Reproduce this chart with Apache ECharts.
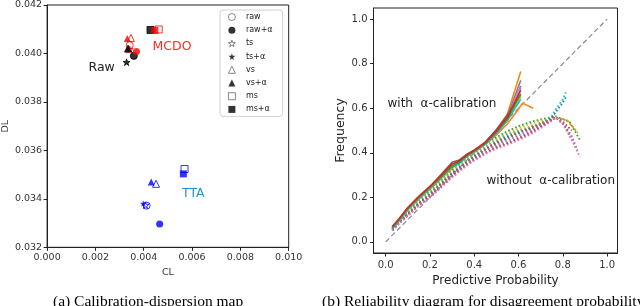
<!DOCTYPE html>
<html><head><meta charset="utf-8">
<script src="https://cdn.jsdelivr.net/npm/echarts@6/dist/echarts.min.js"></script>
<style>html,body{margin:0;padding:0;background:#fff}#c{width:640px;height:306px}</style>
</head><body><div id="c"></div>
<script>
// ===== Panel (a): calibration-dispersion map. Each array: [Raw, MCDO, TTA]
const markerNames = ['raw','raw+α','ts','ts+α','vs','vs+α','ms','ms+α'];
const rawCL  = [0.00359,0.00342,0.00412];
const rawDL  = [0.03990,0.04034,0.03372];
const rawaCL = [0.00359,0.00370,0.00466];
const rawaDL = [0.03990,0.04008,0.03296];
const tsCL   = [0.00329,0.00342,0.00407];
const tsDL   = [0.03964,0.04017,0.03374];
const tsaCL  = [0.00329,0.00335,0.00398];
const tsaDL  = [0.03964,0.04013,0.03381];
const vsCL   = [0.00335,0.00347,0.00451];
const vsDL   = [0.04020,0.04064,0.03462];
const vsaCL  = [0.00335,0.00332,0.00431];
const vsaDL  = [0.04020,0.04062,0.03470];
const msCL   = [0.00428,0.00462,0.00569];
const msDL   = [0.04097,0.04099,0.03523];
const msaCL  = [0.00428,0.00446,0.00564];
const msaDL  = [0.04097,0.04095,0.03503];
const clTicks = [0,0.002,0.004,0.006,0.008,0.010];
const dlTicks = [0.032,0.034,0.036,0.038,0.040,0.042];

// ===== Panel (b): reliability diagram
const probTicks = [0,0.2,0.4,0.6,0.8,1.0];
const calX      = [0.03,0.06,0.10,0.15,0.20,0.25,0.30,0.33,0.37,0.40,0.45,0.50,0.55,0.61];
const calBlue   = [0.062,0.097,0.146,0.196,0.241,0.290,0.338,0.352,0.388,0.407,0.441,0.489,0.548,0.700];
const calOrange = [0.070,0.104,0.155,0.206,0.250,0.298,0.345,0.360,0.393,0.413,0.447,0.500,0.575,0.765];
const calGreen  = [0.064,0.100,0.150,0.202,0.246,0.292,0.340,0.356,0.391,0.409,0.443,0.494,0.552,0.665];
const calRed    = [0.068,0.103,0.153,0.203,0.248,0.298,0.350,0.362,0.393,0.410,0.446,0.497,0.560,0.680];
const calPurple = [0.061,0.096,0.148,0.198,0.243,0.291,0.342,0.355,0.389,0.406,0.442,0.492,0.553,0.690];
const calBrown  = [0.066,0.101,0.151,0.200,0.247,0.302,0.358,0.366,0.396,0.412,0.448,0.505,0.570,0.660];
const calPink   = [0.063,0.098,0.149,0.199,0.244,0.293,0.343,0.356,0.390,0.408,0.443,0.493,0.556,0.695];
const calGray   = [0.065,0.099,0.150,0.201,0.246,0.295,0.347,0.360,0.392,0.411,0.445,0.499,0.565,0.725];
const calOlive  = [0.060,0.095,0.147,0.197,0.242,0.289,0.337,0.352,0.387,0.405,0.440,0.488,0.547,0.650];
const calCyan   = [0.059,0.094,0.145,0.195,0.240,0.288,0.336,0.350,0.386,0.404,0.439,0.486,0.545,0.640];
const calOrange2X = [0.03,0.06,0.10,0.15,0.20,0.25,0.30,0.35,0.40,0.45,0.50,0.55,0.598,0.618,0.666];
const calOrange2  = [0.060,0.092,0.143,0.192,0.236,0.284,0.330,0.372,0.402,0.436,0.480,0.530,0.593,0.623,0.600];

const uncX = [0.03,0.06,0.10,0.15,0.20,0.25,0.30,0.35,0.40,0.45,0.50,0.55,0.60,0.65,0.70,0.75,0.77];
const uncGreen  = [0.062,0.096,0.136,0.186,0.229,0.276,0.323,0.364,0.402,0.440,0.470,0.497,0.520,0.537,0.550,0.560,0.563];
const uncCyan   = [0.058,0.090,0.128,0.176,0.219,0.266,0.313,0.352,0.390,0.425,0.456,0.482,0.500,0.515,0.530,0.565,0.598];
const uncBlue   = [0.056,0.088,0.125,0.172,0.214,0.260,0.307,0.346,0.383,0.417,0.447,0.472,0.492,0.508,0.522,0.555,0.585];
const uncPink   = [0.051,0.081,0.117,0.162,0.198,0.242,0.289,0.330,0.365,0.395,0.418,0.436,0.456,0.480,0.510,0.543,0.558];
const uncPurple = [0.053,0.083,0.120,0.166,0.204,0.249,0.296,0.336,0.371,0.402,0.427,0.447,0.468,0.492,0.520,0.548,0.558];
const uncOlive  = [0.060,0.093,0.132,0.181,0.224,0.271,0.318,0.358,0.396,0.432,0.462,0.488,0.510,0.528,0.545,0.556,0.560];
const uncRed    = [0.052,0.082,0.118,0.164,0.201,0.246,0.292,0.333,0.368,0.398,0.422,0.441,0.462,0.486,0.515,0.546,0.557];
const uncOrange = [0.057,0.089,0.126,0.174,0.216,0.262,0.309,0.349,0.386,0.420,0.450,0.476,0.498,0.516,0.535,0.552,0.558];
const uncGray   = [0.054,0.085,0.122,0.168,0.208,0.253,0.300,0.340,0.376,0.408,0.435,0.456,0.477,0.500,0.526,0.550,0.559];
const uncBrown  = [0.055,0.086,0.123,0.170,0.211,0.257,0.304,0.344,0.380,0.413,0.441,0.465,0.487,0.508,0.530,0.551,0.559];
const tailCyanX = [0.80,0.818],  tailCyan = [0.640,0.680];
const tailBlueX = [0.80,0.815],  tailBlue = [0.625,0.652];
const tailGreenX = [0.83,0.88],  tailGreen = [0.540,0.453];
const tailPinkX = [0.80,0.84,0.878], tailPink = [0.530,0.460,0.380];
const tailPurpleX = [0.80,0.84,0.87], tailPurple = [0.535,0.475,0.400];
const tailOliveX = [0.82,0.869], tailOlive = [0.545,0.488];
const tailRedX = [0.80,0.83],    tailRed = [0.530,0.480];
const tailOrangeX = [0.82,0.86], tailOrange = [0.545,0.500];
const tailGrayX = [0.81,0.86],   tailGray = [0.520,0.420];
const tailBrownX = [0.80,0.84],  tailBrown = [0.540,0.500];
const diagX = [0,1], diagY = [0,1];

// ===== styles
const FONT = 'DejaVu Sans';
const groupColor = ['#000000','#ff0000','#0000ff'];
const STAR = 'path://M50,0 L61,35 L98,35 L68,57 L79,91 L50,70 L21,91 L32,57 L2,35 L39,35 Z';
const tab = {blue:'#1f77b4',orange:'#ff7f0e',green:'#2ca02c',red:'#d62728',purple:'#9467bd',
  brown:'#8c564b',pink:'#e377c2',gray:'#7f7f7f',olive:'#bcbd22',cyan:'#17becf'};
const zip = (xs, ys) => xs.map((x,i)=>[x, ys[i]]);

const markerDefs = [
  [rawCL,rawDL,'circle',false,7],[rawaCL,rawaDL,'circle',true,7],
  [tsCL,tsDL,STAR,false,7],[tsaCL,tsaDL,STAR,true,7],
  [vsCL,vsDL,'triangle',false,7],[vsaCL,vsaDL,'triangle',true,7],
  [msCL,msDL,'rect',false,7],[msaCL,msaDL,'rect',true,7]
];
const series = [];
markerDefs.forEach((d,k)=>{
  const [xs,ys,sym,filled,size] = d;
  series.push({
    name: markerNames[k], type:'scatter', xAxisIndex:0, yAxisIndex:0,
    symbol: sym, symbolSize: size, symbolKeepAspect:true, z: filled?4:3,
    itemStyle: filled ? {color:'#000'} : {color:'rgba(255,255,255,0)', borderColor:'#444', borderWidth:0.9},
    data: xs.map((x,i)=>({value:[x,ys[i]], itemStyle: filled ? {color:groupColor[i]} :
      {color:'rgba(255,255,255,0)', borderColor:groupColor[i], borderWidth:1}}))
  });
});

function line(xs, ys, color, dotted, z){
  return {type:'line', xAxisIndex:1, yAxisIndex:1, showSymbol:false, symbol:'none', silent:true,
    data: zip(xs, ys), z: z,
    lineStyle: dotted ? {color, width:1.8, type:[1.6,2.2], cap:'butt'} : {color, width:1.5}};
}
series.push({type:'line', xAxisIndex:1, yAxisIndex:1, showSymbol:false, symbol:'none', silent:true, z:1,
  data: zip(diagX, diagY), lineStyle:{color:'#888', width:1.2, type:[5,3]}});
const unc = [
  [uncGreen,tailGreenX,tailGreen,tab.green],[uncOlive,tailOliveX,tailOlive,tab.olive],
  [uncCyan,tailCyanX,tailCyan,tab.cyan],[uncOrange,tailOrangeX,tailOrange,tab.orange],
  [uncBlue,tailBlueX,tailBlue,tab.blue],[uncBrown,tailBrownX,tailBrown,tab.brown],
  [uncGray,tailGrayX,tailGray,tab.gray],[uncPurple,tailPurpleX,tailPurple,tab.purple],
  [uncRed,tailRedX,tailRed,tab.red],[uncPink,tailPinkX,tailPink,tab.pink]
];
unc.forEach(u=>series.push(line(uncX.concat(u[1]), u[0].concat(u[2]), u[3], true, 2)));
const cal = [
  [calOrange,tab.orange],[calGray,tab.gray],[calBlue,tab.blue],[calPurple,tab.purple],
  [calPink,tab.pink],[calBrown,tab.brown],[calOlive,tab.olive],[calCyan,tab.cyan],
  [calGreen,tab.green],[calRed,tab.red]
];
series.push(line(calOrange2X, calOrange2, tab.orange, false, 3));
cal.forEach(c=>series.push(line(calX, c[0], c[1], false, 3)));

const axisLine = {show:true, onZero:false, lineStyle:{color:'#222', width:1}};
const axisTick = (vals)=>({show:true, length:3.5, inside:false, lineStyle:{color:'#222', width:1}, customValues: vals});
const chart = echarts.init(document.getElementById('c'), null, {renderer:'canvas'});
chart.setOption({
  animation:false,
  backgroundColor:'#fff',
  textStyle:{fontFamily:FONT},
  grid:[
    {left:45.7, top:4.7, width:243, height:242.6, show:true, borderColor:'#222', borderWidth:1, containLabel:false},
    {left:373.5, top:8, width:244, height:245, show:true, borderColor:'#222', borderWidth:1, containLabel:false}
  ],
  xAxis:[
    {type:'value', gridIndex:0, min:0, max:0.010, interval:0.002, splitLine:{show:false},
     axisLine, axisTick:axisTick(clTicks),
     axisLabel:{customValues: clTicks, formatter:v=>v.toFixed(3), fontSize:9.5, color:'#333', margin:5, fontFamily:FONT},
     name:'CL', nameLocation:'middle', nameGap:15, nameTextStyle:{fontSize:9.5, color:'#333', fontFamily:FONT}},
    {type:'value', gridIndex:1, min:-0.055, max:1.047, splitLine:{show:false},
     axisLine, axisTick:axisTick(probTicks),
     axisLabel:{customValues: probTicks, formatter:v=>v.toFixed(1), fontSize:10, color:'#333', margin:7, fontFamily:FONT},
     name:'Predictive Probability', nameLocation:'middle', nameGap:19, nameTextStyle:{fontSize:12, color:'#222', fontFamily:FONT}}
  ],
  yAxis:[
    {type:'value', gridIndex:0, min:0.032, max:0.042, interval:0.002, splitLine:{show:false},
     axisLine, axisTick:axisTick(dlTicks),
     axisLabel:{customValues: dlTicks, formatter:v=>v.toFixed(3), fontSize:9.5, color:'#333', margin:5, fontFamily:FONT},
     name:'DL', nameLocation:'middle', nameGap:36, nameTextStyle:{fontSize:9.5, color:'#333', fontFamily:FONT}},
    {type:'value', gridIndex:1, min:-0.05, max:1.05, splitLine:{show:false},
     axisLine, axisTick:axisTick(probTicks),
     axisLabel:{customValues: probTicks, formatter:v=>v.toFixed(1), fontSize:10, color:'#333', margin:6, fontFamily:FONT},
     name:'Frequency', nameLocation:'middle', nameGap:25, nameTextStyle:{fontSize:12.5, color:'#222', fontFamily:FONT}}
  ],
  legend:{
    data: markerNames, orient:'vertical', left:220, top:10, padding:[3,10,3,8],
    itemWidth:7, itemHeight:7, itemGap:5.2, borderColor:'#d0d0d0', borderWidth:1, borderRadius:3,
    backgroundColor:'#fff', selectedMode:false,
    itemStyle:{borderWidth:0.8},
    textStyle:{fontSize:8, color:'#222', fontFamily:FONT, padding:[0,0,0,5.5]}
  },
  graphic:[
    {type:'text', left:152.5, top:40, style:{text:'MCDO', fill:'#ff2a2a', fontSize:12.5, fontFamily:FONT}},
    {type:'text', left:88.5, top:61, style:{text:'Raw', fill:'#222', fontSize:12.5, fontFamily:FONT}},
    {type:'text', left:182, top:187, style:{text:'TTA', fill:'#2a8fd6', fontSize:12.5, fontFamily:FONT}},
    {type:'text', left:387.5, top:98, style:{text:'with  α-calibration', fill:'#222', fontSize:12, fontFamily:FONT}},
    {type:'text', left:486.5, top:175, style:{text:'without  α-calibration', fill:'#222', fontSize:12, fontFamily:FONT}},
    {type:'text', left:53, top:294, style:{text:'(a) Calibration-dispersion map', fill:'#000', fontSize:15.5, fontFamily:'Liberation Serif'}},
    {type:'text', left:322, top:294, style:{text:'(b) Reliability diagram for disagreement probability', fill:'#000', fontSize:15.5, fontFamily:'Liberation Serif'}}
  ],
  series
});
</script></body></html>
